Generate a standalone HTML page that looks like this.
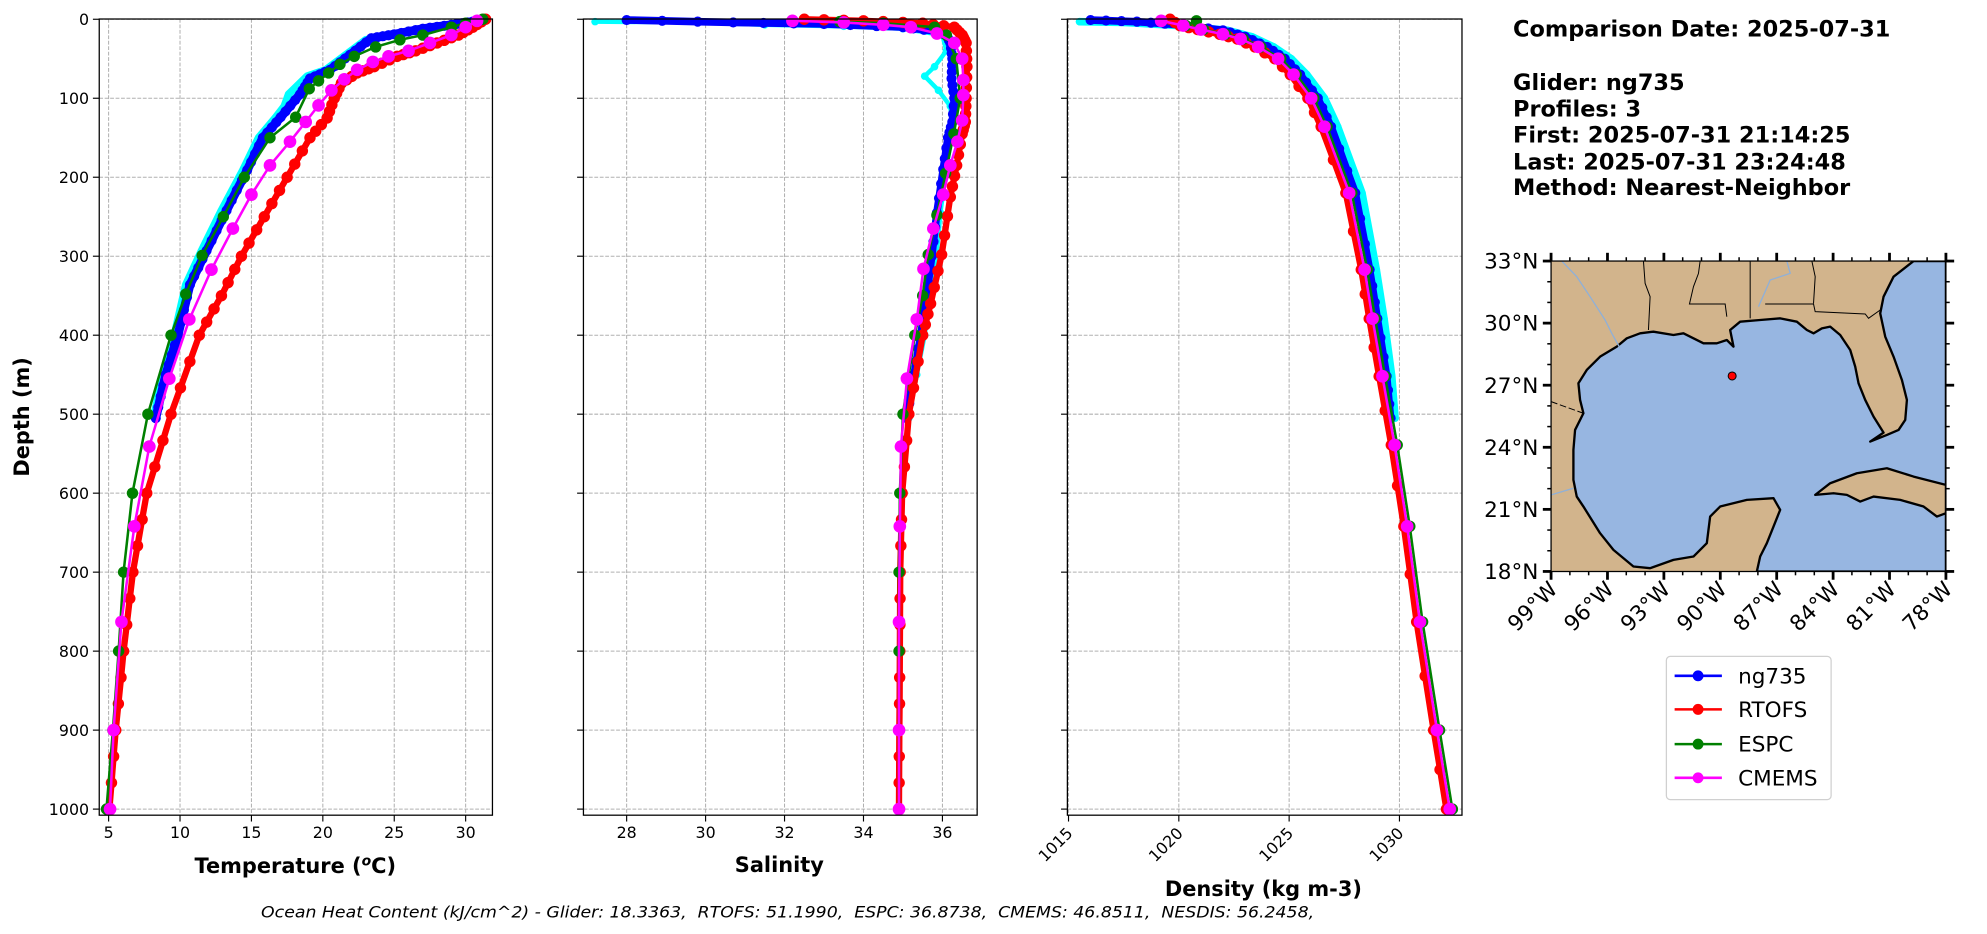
<!DOCTYPE html>
<html><head><meta charset="utf-8"><style>
html,body{margin:0;padding:0;background:#fff;}
svg{display:block;font-family:"DejaVu Sans","Liberation Sans",sans-serif;}
</style></head><body>
<svg id="s" width="1987" height="934" viewBox="0 0 1568 737.06" xmlns="http://www.w3.org/2000/svg">
<rect width="1568" height="738" fill="#fff"/>
<g id="g"></g>
<!-- map -->
<g>
<svg x="1224" y="206" width="311.6" height="245" viewBox="33 33 1184 932" preserveAspectRatio="none">
<rect x="33" y="33" width="1184" height="932" fill="#d2b48c"/>
<polygon fill="#97b6e1" stroke="#000" stroke-width="7" stroke-linejoin="round" points="1217,33 1120,33 1060,80 1030,140 1020,190 1035,260 1060,320 1085,390 1100,450 1095,510 1075,540 1040,555 990,575 1030,548 1000,500 975,450 955,400 945,350 930,300 900,255 870,230 845,235 820,250 800,240 770,215 720,205 660,210 600,215 570,240 580,290 560,270 530,280 490,280 460,265 430,250 400,255 340,245 300,250 260,265 230,290 180,320 140,360 115,400 120,450 130,490 105,540 100,600 100,690 110,740 130,770 180,850 220,900 280,950 330,955 400,930 460,920 500,880 510,800 540,770 620,750 700,745 720,780 700,830 680,880 660,920 650,965 1217,965"/>
<polygon fill="#d2b48c" stroke="#000" stroke-width="7" stroke-linejoin="round" points="825,735 870,700 950,670 1040,655 1120,680 1217,705 1217,790 1190,800 1150,770 1080,750 1000,740 960,755 920,735 880,730"/>
<g fill="none" stroke="#000" stroke-width="3">
<polyline points="310,33 315,100 330,140 325,240"/>
<polyline points="480,33 475,70 460,110 448,162 555,162 560,200"/>
<polyline points="630,33 630,205"/>
<polyline points="675,162 820,162 825,185 975,192 985,205 1020,180"/>
<polyline points="815,33 825,80 820,160"/>
<polyline points="33,455 130,490" stroke-dasharray="20,8"/>
</g>
<g fill="none" stroke="#8fb0d8" stroke-width="4">
<polyline points="65,33 110,80 150,140 195,210 215,250 240,295"/>
<polyline points="740,33 750,70 690,90 655,170"/>
<polyline points="33,735 100,715"/>
</g>
<circle cx="576" cy="378" r="12" fill="#f00" stroke="#000" stroke-width="3"/>
</svg>
<rect x="1224" y="206" width="311.6" height="245" fill="none" stroke="#000" stroke-width="1"/>
</g>
<g id="txt" font-weight="bold" font-size="17.7">
<text x="1194" y="29">Comparison Date: 2025-07-31</text>
<text x="1194" y="71">Glider: ng735</text>
<text x="1194" y="92">Profiles: 3</text>
<text x="1194" y="112.6">First: 2025-07-31 21:14:25</text>
<text x="1194" y="133.6">Last: 2025-07-31 23:24:48</text>
<text x="1194" y="154">Method: Nearest-Neighbor</text>
</g>
<!-- legend -->
<g>
<rect x="1315" y="518" width="130" height="113" rx="3" fill="#fff" stroke="#d0d0d0" stroke-width="1"/>
<g font-size="17">
<line x1="1321.5" y1="533.3" x2="1358.8" y2="533.3" stroke="#00f" stroke-width="2"/><circle cx="1340" cy="533.3" r="4.3" fill="#00f"/><text x="1371.6" y="539.3">ng735</text>
<line x1="1321.5" y1="559.8" x2="1358.8" y2="559.8" stroke="#f00" stroke-width="2"/><circle cx="1340" cy="559.8" r="4.3" fill="#f00"/><text x="1371.6" y="565.8">RTOFS</text>
<line x1="1321.5" y1="587.2" x2="1358.8" y2="587.2" stroke="#008000" stroke-width="2"/><circle cx="1340" cy="587.2" r="4.3" fill="#008000"/><text x="1371.6" y="593.2">ESPC</text>
<line x1="1321.5" y1="613.8" x2="1358.8" y2="613.8" stroke="#f0f" stroke-width="2"/><circle cx="1340" cy="613.8" r="4.3" fill="#f0f"/><text x="1371.6" y="619.8">CMEMS</text>
</g>
</g>
<text x="206" y="724" font-size="12.5" font-style="italic" textLength="831" lengthAdjust="spacingAndGlyphs" xml:space="preserve">Ocean Heat Content (kJ/cm^2) - Glider: 18.3363,  RTOFS: 51.1990,  ESPC: 36.8738,  CMEMS: 46.8511,  NESDIS: 56.2458,</text>
<text x="233" y="689" font-size="16.5" font-weight="bold" text-anchor="middle">Temperature (<tspan font-style="italic" font-size="11" dy="-6">o</tspan><tspan dy="6">C)</tspan></text>
<text x="615" y="688" font-size="16.5" font-weight="bold" text-anchor="middle">Salinity</text>
<text x="997" y="707" font-size="16.5" font-weight="bold" text-anchor="middle">Density (kg m-3)</text>
<text transform="translate(23,329) rotate(-90)" font-size="16.5" font-weight="bold" text-anchor="middle">Depth (m)</text>
</svg>
<script>
(function(){
var NS="http://www.w3.org/2000/svg",G=document.getElementById('g');
function el(t,a,p){var e=document.createElementNS(NS,t);for(var k in a)e.setAttribute(k,a[k]);(p||G).appendChild(e);return e;}
function Y(d){return 15.2+d*0.6233;}
var top=15,bot=643.3;
var panels=[
 {l:78.3,r:388.6,fx:function(v){return 85.7+(v-5)*11.27;},ticks:[5,10,15,20,25,30],lab:true},
 {l:460.4,r:771.1,fx:function(v){return 681.4+(v-34)*31.15;},ticks:[28,30,32,34,36]},
 {l:842.3,r:1153.7,fx:function(v){return 843.2+(v-1015)*17.41;},ticks:[1015,1020,1025,1030],rot:true}
];
var deps=[0,100,200,300,400,500,600,700,800,900,1000];
panels.forEach(function(p){
 p.ticks.forEach(function(t){var x=p.fx(t);el('line',{x1:x,x2:x,y1:top,y2:bot,stroke:'#b0b0b0','stroke-width':0.8,'stroke-dasharray':'3,1.3'});});
 deps.forEach(function(d){var y=Y(d);el('line',{x1:p.l,x2:p.r,y1:y,y2:y,stroke:'#b0b0b0','stroke-width':0.8,'stroke-dasharray':'3,1.3'});});
});
function poly(p,data,col,w,r){
 var pts=data.map(function(a){return p.fx(a[0]).toFixed(1)+','+Y(a[1]).toFixed(1);}).join(' ');
 el('polyline',{points:pts,fill:'none',stroke:col,'stroke-width':w,'stroke-linejoin':'round','stroke-linecap':'round'});
 if(r)data.forEach(function(a){el('circle',{cx:p.fx(a[0]),cy:Y(a[1]),r:r,fill:col});});
}
function dens(v,n){var o=[],i,s;for(i=0;i<v.length-1;i++){for(s=0;s<n;s++){var f=s/n;o.push([v[i][0]+(v[i+1][0]-v[i][0])*f,v[i][1]+(v[i+1][1]-v[i][1])*f]);}}o.push(v[v.length-1]);return o;}
function off(v,dx){return v.map(function(a){return [a[0]+dx,a[1]];});}
var P=panels[0];
var tB=[[31.2,0],[30.5,3],[29,7],[27,12],[25,19],[23.4,24],[21.9,45],[20.5,64],[19.1,75],[18.4,95],[17.05,124],[15.8,150],[14.7,191],[13.26,242],[11.86,293],[10.7,336],[9.85,400],[9.0,450],[8.3,505]];
var tC=[[31,0],[30,4],[28,9],[25.5,18],[23,26],[21.6,45],[20.2,64],[18.9,72],[17.6,95],[17.3,110],[16.7,124],[15.5,150],[14.4,191],[12.9,242],[11.5,293],[10.4,336],[9.6,400],[8.8,450],[8.2,500]];
var tR=[[31.4,0],[30.5,10],[29.5,20],[28,30],[26.5,40],[25.2,47],[23.6,60],[22.4,68],[21.3,81],[20.8,100],[20.3,125],[19.1,150],[17.5,200],[15.9,250],[14.3,300],[12.9,350],[11.35,400],[9.37,500],[7.67,600],[6.7,700],[6.05,800],[5.5,900],[5.05,1000]];
var tG=[[31.2,0],[30,5],[29,10],[27,20],[25.4,26],[23.7,35],[22.2,47],[21.2,57],[20.4,68],[19.7,78],[19.05,88],[18.1,124],[16.3,150],[14.5,200],[13.03,250],[11.55,299],[10.4,348],[9.37,400],[7.75,500],[6.67,600],[6.05,700],[5.7,800],[5.3,900],[4.85,1000]];
var tM=[[30.8,2],[30,10],[29,20],[27.5,30],[26,40],[24.6,47],[23.5,54],[22.4,64],[21.5,76],[20.6,90],[19.7,109],[18.8,130],[17.7,155],[16.3,185],[15,222],[13.7,265],[12.2,317],[10.65,380],[9.25,455],[7.85,541],[6.8,642],[5.9,763],[5.35,900],[5.1,1000]];
poly(P,tC,'#00ffff',6,0);
poly(P,dens(tB,4),'#0000ff',7,4);
poly(P,dens(tR,3),'#ff0000',5,4.5);
poly(P,tG,'#008000',2,4.5);
poly(P,tM,'#ff00ff',2,5);
P=panels[1];
var sB=[[28,1],[30.7,4],[33,6],[35,10],[35.8,15],[36.1,20],[36.2,30],[36.25,50],[36.23,75],[36.3,100],[36.25,130],[36.14,150],[36.02,190],[35.86,245],[35.73,300],[35.6,350],[35.45,400],[35.28,450],[35.1,505]];
var sC=[[27.2,3],[29.8,4],[31.5,7],[33.5,9],[35,12],[36,20],[36.1,40],[35.8,60],[35.55,72],[35.9,90],[36.2,110],[36.25,140],[36.1,190],[35.95,245],[35.85,300],[35.7,350],[35.55,400],[35.35,450],[35.15,505]];
var sR=[[32.5,0],[34,2],[35.5,5],[36.3,10],[36.5,20],[36.6,30],[36.62,60],[36.6,100],[36.58,130],[36.5,145],[36.36,185],[36.2,225],[35.98,298],[35.7,360],[35.5,400],[35.15,500],[34.98,600],[34.93,700],[34.92,800],[34.91,900],[34.9,1000]];
var sG=[[33.4,3],[34.5,5],[35.8,10],[36.1,20],[36.35,50],[36.45,100],[36.29,145],[36.08,195],[35.86,248],[35.64,298],[35.5,350],[35.3,400],[35.0,500],[34.92,600],[34.9,700],[34.9,800],[34.9,900],[34.9,1000]];
var sM=[[32.2,2],[33.5,4],[34.5,7],[35.2,10],[35.86,18],[36.3,30],[36.5,50],[36.53,77],[36.53,96],[36.5,128],[36.38,155],[36.2,185],[36.02,222],[35.77,265],[35.52,316],[35.35,380],[35.1,455],[34.95,541],[34.92,642],[34.9,763],[34.9,900],[34.9,1000]];
poly(P,sC,'#00ffff',3.5,3);
poly(P,dens(sB,3),'#0000ff',6,4);
poly(P,dens(sR,3),'#ff0000',5,4.5);
poly(P,sG,'#008000',2,4.5);
poly(P,sM,'#ff00ff',2,5);
P=panels[2];
var dM=[[1019.2,2],[1020.2,8],[1021,13],[1022,19],[1022.8,25],[1023.6,35],[1024.5,50],[1025.2,70],[1026,100],[1026.6,136],[1027.72,220],[1028.42,317],[1028.78,379],[1029.23,452],[1029.78,539],[1030.35,642],[1030.93,763],[1031.7,900],[1032.28,1000]];
var dB=[[1016,1],[1018.1,3],[1020,7],[1022,14],[1023,22],[1024,35],[1024.8,50],[1025.5,70],[1026.3,100],[1026.9,136],[1028,220],[1028.65,317],[1029,379],[1029.42,452],[1029.6,505]];
var dC=[[1015.5,3],[1017.5,4],[1020,8],[1022.2,14],[1023.3,22],[1024.3,35],[1025.1,50],[1025.8,70],[1026.6,100],[1027.2,136],[1028.3,220],[1028.95,317],[1029.3,379],[1029.65,452],[1029.8,505]];
var dR=off(dM,-0.15);dR[0]=[1019.6,0];
var dG=off(dM,0.12);dG[0]=[1020.8,2];
poly(P,dC,'#00ffff',6,3);
poly(P,dens(dB,3),'#0000ff',6,4);
poly(P,dens(dR,2),'#ff0000',5,4.5);
poly(P,dG,'#008000',2,4.5);
poly(P,dM,'#ff00ff',2,5);
panels.forEach(function(p,i){
 el('rect',{x:p.l,y:top,width:p.r-p.l,height:bot-top,fill:'none',stroke:'#000','stroke-width':1});
 p.ticks.forEach(function(t){var x=p.fx(t);el('line',{x1:x,x2:x,y1:bot,y2:bot+5,stroke:'#000','stroke-width':0.9});
  var tx;
  if(p.rot){tx=el('text',{'font-size':12.5,'text-anchor':'end',transform:'translate('+(x+4)+','+(bot+15)+') rotate(-45)'});}
  else{tx=el('text',{x:x,y:bot+18,'font-size':12.5,'text-anchor':'middle'});}
  tx.textContent=t;
 });
 deps.forEach(function(d){var y=Y(d);el('line',{x1:p.l-5,x2:p.l,y1:y,y2:y,stroke:'#000','stroke-width':0.9});
  if(i==0){var tx=el('text',{x:p.l-8,y:y+4.5,'font-size':12.5,'text-anchor':'end'});tx.textContent=d;}});
});
var mx=function(lon){return 1224+(lon+99)*14.838;},my=function(lat){return 206+(33-lat)*16.33;};
for(var lon=-99;lon<=-78;lon++){var x=mx(lon),maj=(lon%3==0);var L=maj?6.5:3,w=maj?2.2:1.2;
 el('line',{x1:x,x2:x,y1:206-L,y2:206,stroke:'#000','stroke-width':w});el('line',{x1:x,x2:x,y1:451,y2:451+L,stroke:'#000','stroke-width':w});
 if(maj){var t=el('text',{'font-size':17,'text-anchor':'end',transform:'translate('+(x+6)+','+(466)+') rotate(-45)'});t.textContent=(-lon)+'\u00B0W';}}
for(var lat=18;lat<=33;lat++){var y=my(lat),maj=(lat%3==0);var L=maj?6.5:3,w=maj?2.2:1.2;
 el('line',{x1:1224-L,x2:1224,y1:y,y2:y,stroke:'#000','stroke-width':w});el('line',{x1:1535.6,x2:1535.6+L,y1:y,y2:y,stroke:'#000','stroke-width':w});
 if(maj){var t=el('text',{x:1214,y:y+6,'font-size':17,'text-anchor':'end'});t.textContent=lat+'\u00B0N';}}
})();
</script>
</body></html>
